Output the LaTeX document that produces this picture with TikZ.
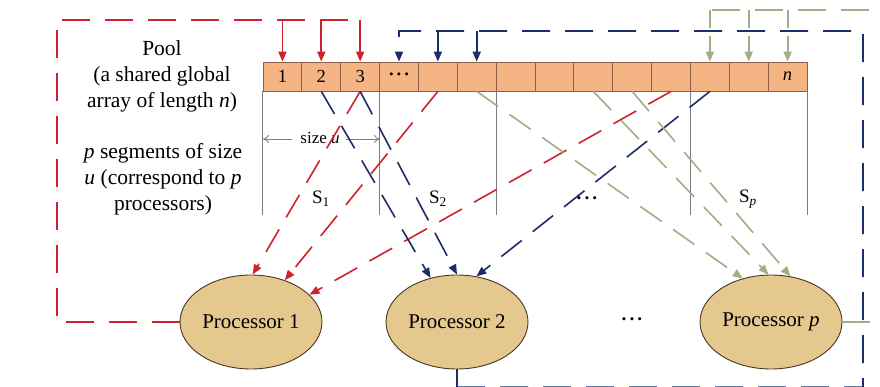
\documentclass[tikz,border=0pt]{standalone}
\usepackage{fontspec}
\setmainfont{Liberation Serif}
\usetikzlibrary{arrows.meta,shapes.geometric,calc}

\definecolor{poolred}{RGB}{206,34,44}
\definecolor{poolblue}{RGB}{30,44,104}
\definecolor{poolsage}{RGB}{163,172,132}
\definecolor{cellfill}{RGB}{245,180,132}
\definecolor{cellline}{RGB}{140,95,70}
\definecolor{procfill}{RGB}{228,200,142}
\definecolor{procline}{RGB}{70,55,35}
\definecolor{seggray}{RGB}{125,125,125}

\newcommand{\middots}{\textbf{\textperiodcentered\kern0.08em\textperiodcentered\kern0.08em\textperiodcentered}}

\tikzset{
  cell/.style={draw=cellline, line width=0.8pt, fill=cellfill, inner sep=0pt,
    minimum width=38.86pt, minimum height=29pt,
    font=\fontsize{18.5}{20}\selectfont},
  proc/.style={ellipse, draw=procline, line width=0.9pt, fill=procfill, inner sep=0pt,
    minimum width=142pt, minimum height=94pt,
    font=\fontsize{21}{24}\selectfont},
  txt/.style={align=center, inner sep=0pt, font=\fontsize{21.5}{26}\selectfont},
  seglabel/.style={inner sep=0pt, font=\fontsize{19}{20}\selectfont},
  loopdash/.style={dash pattern=on 28pt off 15pt},
  diagdash/.style={dash pattern=on 26pt off 14pt},
  tip/.style={-{Triangle[length=10pt,width=8pt]}},
  redwire/.style={draw=poolred, line width=1.8pt},
  bluewire/.style={draw=poolblue, line width=1.8pt},
  sagewire/.style={draw=poolsage, line width=1.8pt},
  diag/.style={line width=1.6pt, diagdash, tip},
  segline/.style={draw=seggray, line width=1pt},
  sizearrow/.style={draw=seggray, line width=0.8pt, -{To[length=6pt,width=8pt]}}
}

\begin{document}
\begin{tikzpicture}[x=1pt, y=-1pt]
\useasboundingbox (0,0) rectangle (880,387);
\clip (0,0) rectangle (880,387);

% the shared pool: 14 cells
\foreach \i in {1,...,14} {
  \node[cell] (c\i) at ({263+38.86*(\i-0.5)}, 76.5) {};
}
\node[cell, draw=none, fill=none] at (c1) {1};
\node[cell, draw=none, fill=none] at (c2) {2};
\node[cell, draw=none, fill=none] at (c3) {3};
\node[cell, draw=none, fill=none] at (c4) {\middots};
\node[cell, draw=none, fill=none] at (c14) {\textit{n}};

% segment boundaries
\foreach \c/\a in {c1/south west, c3/south east, c6/south east, c11/south east, c14/south east} {
  \draw[segline] (\c.\a) -- ++(0,124);
}
\node[seglabel] (s1) at (321,199) {S\textsubscript{1}};
\node[seglabel] (s2) at (438,199) {S\textsubscript{2}};
\node[seglabel] (sdots) at (587,201) {\middots};
\node[seglabel] (sp) at (748,199) {S\textsubscript{\textit{p}}};

% size of one segment
\node[txt, font=\fontsize{17}{20}\selectfont] (size) at (320,138) {size \textit{u}};
\coordinate (szl) at (263,139);
\coordinate (szr) at (380,139);
\draw[sizearrow] (size.west) ++(-8,1) -- (szl);
\draw[sizearrow] (size.east) ++(6,1) -- (szr);

% explanatory text
\node[txt] (pooltxt) at (162,76) {Pool\\(a shared global\\array of length \textit{n})};
\node[txt] (segtxt) at (163,179) {\textit{p} segments of size\\\textit{u} (correspond to \textit{p}\\processors)};

% processors
\node[proc] (p1) at (251,322) {Processor 1};
\node[proc] (p2) at (457,322) {Processor 2};
\node[proc] (pp) at (771,322) {Processor \textit{p}};
\node[seglabel] (pdots) at (632,322) {\middots};

% red loop: processor 1 back to cells 1-3
\coordinate (r1) at (57,322);
\coordinate (r2) at (57,20);
\coordinate (r3) at (360,20);
\draw[redwire, loopdash] (p1.west) -- (r1) -- (r2) -- (r3);
\foreach \c in {c1,c2,c3} {
  \draw[redwire, tip] (\c.north |- r3) -- (\c.north);
}

% blue loop: processor 2 back to cells 4-6
\coordinate (b1) at (457,387.2);
\coordinate (b2) at (863,387.2);
\coordinate (b3) at (863,31);
\coordinate (b4) at (399,31);
\draw[bluewire] (p2.south) -- (b1);
\draw[bluewire, loopdash, tip] (b1) -- (b2) -- (b3) -- (b4) -- (c4.north);
\foreach \c in {c5,c6} {
  \draw[bluewire, tip] (\c.north |- b4) -- (\c.north);
}

% sage loop: processor p back to cells 12-14
\coordinate (g1) at (893,322);
\coordinate (g2) at (893,10);
\coordinate (g3) at (710,10);
\draw[sagewire, loopdash] (pp.east) -- (g1) -- (g2) -- (g3);
\foreach \c in {c12,c13,c14} {
  \draw[sagewire, tip, dash pattern=on 18pt off 8pt] (\c.north |- g3) -- (\c.north);
}

% cells handed to the processors
\draw[redwire, diag] (c3.south) -- (p1.88);
\draw[redwire, diag] (c5.south) -- (p1.51);
\draw[redwire, diag] (c11.south) -- (p1.25);
\draw[bluewire, diag] (c2.south) -- (p2.121);
\draw[bluewire, diag] (c3.south) -- (p2.north);
\draw[bluewire, diag] (c12.south) -- (p2.67);
\draw[sagewire, diag] (c6.south) -- (pp.123);
\draw[sagewire, diag] (c9.south) -- (pp.93);
\draw[sagewire, diag] (c10.south) -- (pp.67);
\end{tikzpicture}
\end{document}
